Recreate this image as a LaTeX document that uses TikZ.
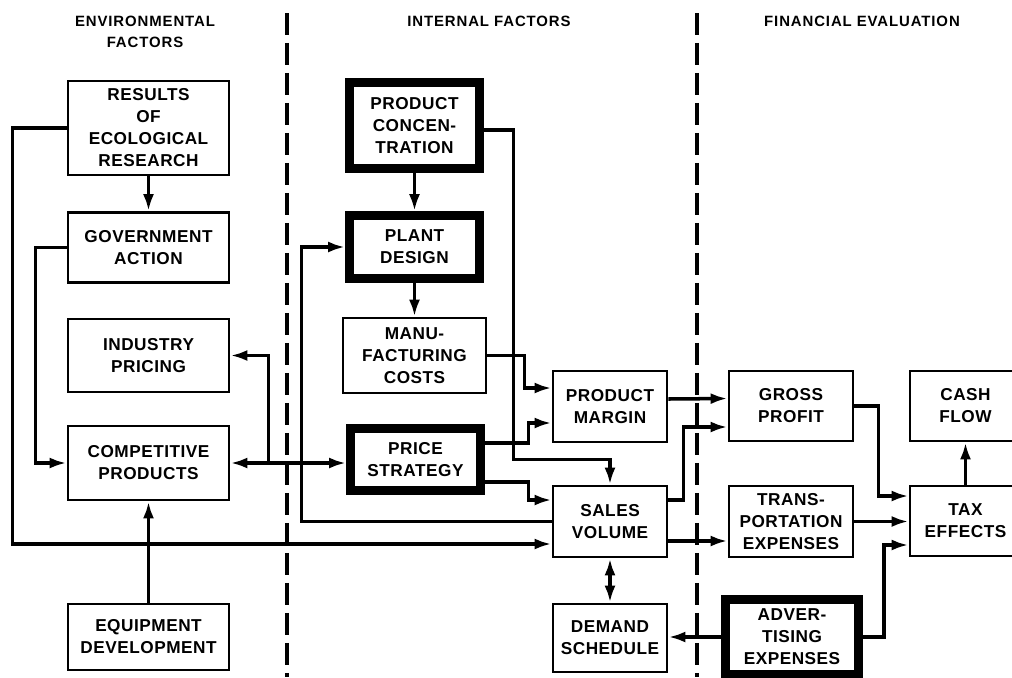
\documentclass[tikz,border=0pt]{standalone}
\usepackage{fontspec}
\setmainfont{Liberation Sans}
\usetikzlibrary{arrows.meta,calc}

\begin{document}
\begin{tikzpicture}[
  x=0.02cm, y=-0.02cm,
  box/.style={draw, line width=1.6pt, align=center, inner sep=0pt,
              font=\fontsize{9.8}{12.5}\selectfont\bfseries\addfontfeatures{LetterSpace=3}},
  keybox/.style={box, line width=5pt},
  wh/.style 2 args={minimum width=#1*0.02cm, minimum height=#2*0.02cm},
  head/.style={align=center, inner sep=0pt,
               font=\fontsize{8.5}{12}\selectfont\bfseries\addfontfeatures{LetterSpace=6}},
  arr/.style={-{Latex[length=0.34cm,width=0.22cm]}, line width=2pt},
  arrs/.style={{Latex[length=0.34cm,width=0.22cm]}-{Latex[length=0.34cm,width=0.22cm]}, line width=2pt},
  divider/.style={line width=2pt, dash pattern=on 0.44cm off 0.16cm}
]
\useasboundingbox (0,0) rectangle (1012,677);
\clip (0,0) rectangle (1012,677);

% ── Headings and dividers ────────────────────────────────────────────────────
\node[head] (hEnv) at (145,32) {ENVIRONMENTAL\\FACTORS};
\node[head] (hInt) at (489,21) {INTERNAL FACTORS};
\node[head] (hFin) at (862,21) {FINANCIAL EVALUATION};
\draw[divider] (287,13) -- (287,677);
\draw[divider] (697,13) -- (697,677);

% ── Environmental factors ────────────────────────────────────────────────────
\node[box, wh={161}{94}] (results)  at (148.5,128)   {RESULTS\\OF\\ECOLOGICAL\\RESEARCH};
\node[box, wh={161}{70}] (govt)     at (148.5,247.5) {GOVERNMENT\\ACTION};
\node[box, wh={161}{73}] (industry) at (148.5,355.5) {INDUSTRY\\PRICING};
\node[box, wh={161}{74}] (comp)     at (148.5,463)   {COMPETITIVE\\PRODUCTS};
\node[box, wh={161}{66}] (equip)    at (148.5,637)   {EQUIPMENT\\DEVELOPMENT};

% ── Internal factors ─────────────────────────────────────────────────────────
\node[keybox, wh={130}{86}] (conc)  at (414.5,125.5) {PRODUCT\\CONCEN-\\TRATION};
\node[keybox, wh={130}{63}] (plant) at (414.5,247)   {PLANT\\DESIGN};
\node[box,    wh={143}{75}] (manu)  at (414.5,355.5) {MANU-\\FACTURING\\COSTS};
\node[keybox, wh={130}{62}] (price) at (415.5,459.5) {PRICE\\STRATEGY};

\node[box, wh={114}{71}] (margin) at (610,406.5) {PRODUCT\\MARGIN};
\node[box, wh={114}{71}] (sales)  at (610,521.5) {SALES\\VOLUME};
\node[box, wh={114}{68}] (demand) at (610,638)   {DEMAND\\SCHEDULE};

% ── Financial evaluation ─────────────────────────────────────────────────────
\node[box,    wh={124}{70}] (gross) at (791,406)   {GROSS\\PROFIT};
\node[box,    wh={124}{71}] (trans) at (791,521.5) {TRANS-\\PORTATION\\EXPENSES};
\node[keybox, wh={133}{75}] (adv)   at (792,637)   {ADVER-\\TISING\\EXPENSES};
\node[box,    wh={111}{70}] (cash)  at (965.5,406) {CASH\\FLOW};
\node[box,    wh={111}{70}] (tax)   at (965.5,521) {TAX\\EFFECTS};

% ── Arrows: left column ──────────────────────────────────────────────────────
\draw[arr] (results) -- (govt);
\draw[arr] (results.west) -- ++(-54,0) |- ([yshift=-0.45cm]sales.west);
\draw[arr] (govt.west) -- ++(-31,0) |- (comp.west);
\draw[arr] (equip) -- (comp);
\draw[arrs] (comp.east) -- (comp.east -| price.west);
\draw[arr] ([xshift=0.76cm]comp.east) |- (industry.east);

% ── Arrows: internal factors ─────────────────────────────────────────────────
\draw[arr] (conc) -- (plant);
\draw[arr] (plant) -- (manu);
\draw[arr] ([yshift=-0.09cm]conc.east) -- ++(29.5,0) |- ([yshift=0.5cm]sales.north) -- (sales.north);
\draw[arr] (sales.west) -- ++(-250,0) |- (plant.west);
\draw[arr] (manu.east) -- ++(37,0) |- ([yshift=0.37cm]margin.west);
\draw[arr] ([yshift=0.33cm]price.east) -- ++(43.5,0) |- ([yshift=-0.33cm]margin.west);
\draw[arr] ([yshift=-0.45cm]price.east) -- ++(43.5,0) |- ([yshift=0.43cm]sales.west);
\draw[arrs] (sales) -- (demand);

% ── Arrows: financial evaluation ─────────────────────────────────────────────
\draw[arr] ([yshift=0.15cm]margin.east) -- ([yshift=0.15cm]gross.west);
\draw[arr] ([yshift=0.43cm]sales.east) -- ++(15,0) |- ([yshift=-0.42cm]gross.west);
\draw[arr] ([yshift=-0.39cm]sales.east) -- ([yshift=-0.39cm]trans.west);
\draw[arr] (adv.west) -- (adv.west -| demand.east);
\draw[arr] (gross.east) -- ++(24,0) |- ([yshift=0.5cm]tax.west);
\draw[arr] (trans.east) -- (trans.east -| tax.west);
\draw[arr] (adv.east) -- ++(21,0) |- ([yshift=-0.48cm]tax.west);
\draw[arr] (tax) -- (cash);
\end{tikzpicture}
\end{document}
